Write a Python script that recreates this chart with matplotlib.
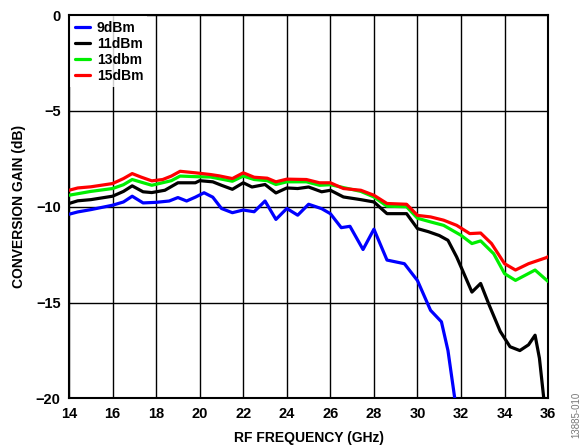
import numpy as np
import matplotlib
matplotlib.use('Agg')
from matplotlib import pyplot as plt

plt.rcParams['font.family'] = ['Liberation Sans', 'DejaVu Sans']
plt.rcParams['font.weight'] = 'bold'

# values (GHz, dB)
f_9 = [14, 14.4, 15, 16, 16.5, 16.9, 17.4, 18, 18.6, 19, 19.4, 19.8, 20.2, 20.6, 21,
       21.5, 22, 22.5, 23, 23.5, 24, 24.5, 25, 25.6, 26, 26.5, 26.9, 27.5, 28, 28.6,
       29.4, 30, 30.6, 31.1, 31.4, 31.7, 31.8]
g_9 = [-10.39, -10.27, -10.15, -9.92, -9.75, -9.45, -9.8, -9.77, -9.7, -9.52, -9.7, -9.5, -9.27,
       -9.5, -10.09, -10.31, -10.17, -10.26, -9.7, -10.66, -10.09, -10.44, -9.87, -10.1, -10.36,
       -11.09, -11.02, -12.23, -11.17, -12.78, -12.97, -13.85, -15.4, -16.0, -17.5, -19.9, -20.5]

f_11 = [14, 14.4, 15, 16, 16.5, 16.9, 17.4, 17.8, 18.4, 19, 19.8, 20, 20.6, 21, 21.5, 22,
        22.4, 23, 23.5, 24, 24.5, 25, 25.6, 26, 26.6, 27.4, 28, 28.6, 29.5, 30, 30.5, 31,
        31.4, 31.8, 32.1, 32.5, 32.9, 33.3, 33.8, 34.25, 34.7, 35.1, 35.4, 35.6, 35.8, 35.85]
g_11 = [-9.83, -9.69, -9.63, -9.45, -9.2, -8.91, -9.22, -9.26, -9.14, -8.75, -8.75, -8.64, -8.7,
        -8.88, -9.09, -8.75, -8.97, -8.84, -9.28, -9.02, -9.05, -8.97, -9.22, -9.14, -9.49, -9.63,
        -9.75, -10.36, -10.36, -11.14, -11.3, -11.5, -11.75, -12.62, -13.4, -14.45, -14.0, -15.15,
        -16.5, -17.3, -17.5, -17.2, -16.7, -17.9, -20.0, -20.5]

f_13 = [14, 15, 16, 16.5, 16.9, 17.8, 18.7, 19.1, 19.8, 20.5, 21.5, 22, 22.5, 23.1, 23.5, 24,
        24.9, 25.5, 26, 27.4, 28, 28.6, 29.5, 30, 30.6, 31.2, 32, 32.5, 32.9, 33.5, 34, 34.5,
        35.4, 36]
g_13 = [-9.4, -9.2, -9.05, -8.85, -8.58, -8.88, -8.64, -8.4, -8.43, -8.45, -8.67, -8.4, -8.58,
        -8.64, -8.84, -8.7, -8.7, -8.88, -8.85, -9.2, -9.49, -9.97, -10.0, -10.6, -10.79,
        -10.97, -11.49, -11.92, -11.78, -12.45, -13.49, -13.84, -13.3, -13.9]

f_15 = [14, 14.4, 15, 16, 16.5, 16.9, 17.3, 17.8, 18.3, 18.7, 19.1, 19.8, 20.5, 20.9, 21.5,
        22, 22.5, 23.1, 23.5, 24, 24.9, 25.5, 26, 26.6, 27.4, 28, 28.6, 29.5, 30, 30.6, 31.2,
        31.8, 32.4, 32.9, 33.4, 34, 34.5, 35.1, 35.9, 36]
g_15 = [-9.14, -9.02, -8.96, -8.79, -8.53, -8.27, -8.45, -8.65, -8.58, -8.4, -8.15, -8.23,
        -8.32, -8.39, -8.53, -8.23, -8.46, -8.51, -8.7, -8.56, -8.58, -8.75, -8.75, -9.05, -9.14,
        -9.4, -9.83, -9.87, -10.45, -10.53, -10.7, -10.97, -11.4, -11.37, -11.92, -12.97, -13.3,
        -12.97, -12.66, -12.6]

fig = plt.figure(figsize=(5.85, 4.48), dpi=100)
ax = fig.add_axes([0.118, 0.1105, 0.819, 0.856])

kw = dict(lw=2.3, solid_joinstyle='round', solid_capstyle='round', zorder=3)
ax.plot(f_9, g_9, color='#0000ff', label='9dBm', **kw)
ax.plot(f_11, g_11, color='black', label='11dBm', **kw)
ax.plot(f_13, g_13, color='#00ee00', label='13dbm', **kw)
ax.plot(f_15, g_15, color='#ff0000', label='15dBm', **kw)

ax.set_xlim(14, 36)
ax.set_ylim(-20, 0)
ax.set_xticks(np.arange(14, 37, 2))
ax.set_yticks([-20, -15, -10, -5, 0])
ax.grid(True, color='black', lw=1.0)
ax.tick_params(length=0, labelsize=10.5, pad=6)
for s in ax.spines.values():
    s.set_linewidth(1.5)

ax.set_xlabel('RF FREQUENCY (GHz)', fontsize=10, fontweight='bold', labelpad=7)
ax.set_ylabel('CONVERSION GAIN (dB)', fontsize=10, fontweight='bold', labelpad=7)

leg = ax.legend(loc='upper left', frameon=True, fancybox=False, edgecolor='white',
                handlelength=1.1, handletextpad=0.5, labelspacing=0.15,
                borderaxespad=0.1, borderpad=0.3, prop={'size': 10, 'weight': 'bold'})
leg.get_frame().set_linewidth(0)
leg.set_zorder(4)

fig.text(0.985, 0.075, '13885-010', rotation=90, fontsize=7, color='#777777',
         fontweight='normal', ha='center', va='center')

plt.savefig('out.png', dpi=100, facecolor='w')
